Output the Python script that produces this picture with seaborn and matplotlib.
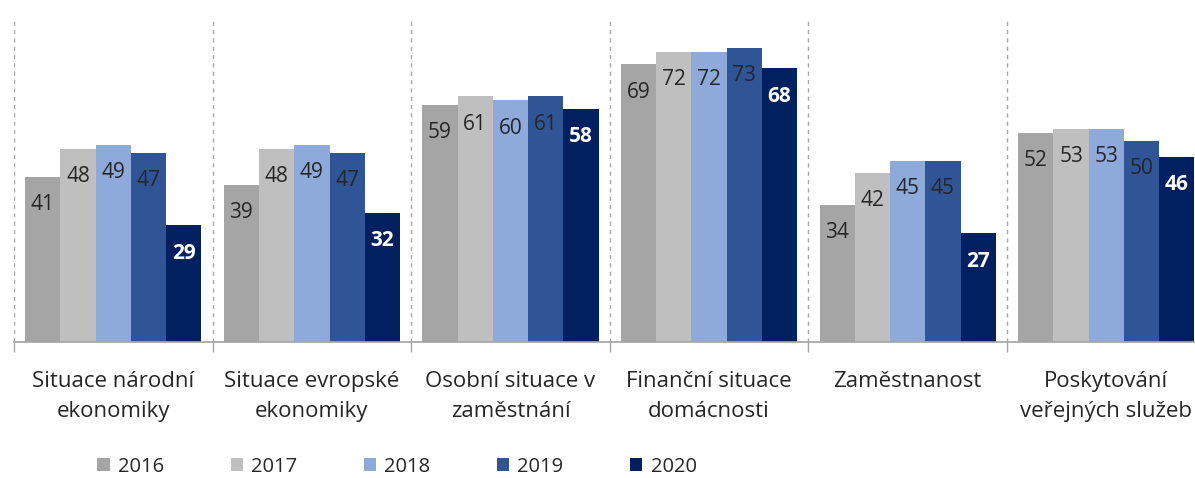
import matplotlib
matplotlib.use("Agg")
import matplotlib.pyplot as plt
import seaborn as sns
import pandas as pd

categories = ["Situace národní\nekonomiky", "Situace evropské\nekonomiky",
              "Osobní situace v\nzaměstnání", "Finanční situace\ndomácnosti",
              "Zaměstnanost", "Poskytování\nveřejných služeb"]
years = ["2016", "2017", "2018", "2019", "2020"]
v2016 = [41, 39, 59, 69, 34, 52]
v2017 = [48, 48, 61, 72, 42, 53]
v2018 = [49, 49, 60, 72, 45, 53]
v2019 = [47, 47, 61, 73, 45, 50]
v2020 = [29, 32, 58, 68, 27, 46]
colors = ["#a5a5a5", "#bfbfbf", "#8eaadb", "#2f5597", "#002060"]

series = [v2016, v2017, v2018, v2019, v2020]
rows = []
for y, vals in zip(years, series):
    for c, v in zip(categories, vals):
        rows.append({"cat": c, "year": y, "val": v})
df = pd.DataFrame(rows)

sns.set_theme(style="white")
plt.rcParams["font.family"] = ["Open Sans", "DejaVu Sans"]

fig = plt.figure(figsize=(11.95, 4.78), dpi=100)
ax = fig.add_axes([14 / 1195, 136 / 478, 6 * 198.6 / 1195, 322 / 478])
sns.barplot(data=df, x="cat", y="val", hue="year", order=categories,
            hue_order=years, palette=colors, width=0.887, gap=0,
            saturation=1, ax=ax, legend=True, edgecolor="none")

ax.set_ylim(0, 80)
ax.set_xlim(-0.5, len(categories) - 0.5)

for cont, y in zip(ax.containers, years):
    bold = (y == "2020")
    for p in cont.patches:
        h = p.get_height()
        x = p.get_x() + p.get_width() / 2
        ax.annotate(f"{h:.0f}", (x, h), xytext=(0, -20), textcoords="offset points",
                    ha="center", va="center", fontsize=15,
                    color="white" if bold else "#262626",
                    fontweight="bold" if bold else "normal")

# separators
for b in range(len(categories)):
    ax.axvline(b - 0.5, ymin=0, ymax=1, color="#a6a6a6", lw=1, ls=(0, (3, 3)))

for s in ["top", "right", "left"]:
    ax.spines[s].set_visible(False)
ax.spines["bottom"].set_color("#a6a6a6")
ax.set_yticks([])
ax.set_ylabel("")
ax.set_xlabel("")
ax.set_xticks(range(len(categories)))
ax.set_xticklabels(categories, fontsize=16, color="#262626", linespacing=1.58)
ax.tick_params(axis="x", which="major", length=0, pad=21)
ax.set_xticks([b - 0.5 for b in range(len(categories) + 1)], minor=True)
ax.tick_params(axis="x", which="minor", length=7, color="#a6a6a6", width=1)
ax.tick_params(axis="x", which="minor", bottom=True)

handles, labels = ax.get_legend_handles_labels()
ax.legend(handles, labels, ncol=5, frameon=False, loc="center",
          bbox_to_anchor=(397 / 1195, 11 / 478), bbox_transform=fig.transFigure,
          fontsize=14.5, handlelength=0.62, handleheight=0.62, handletextpad=0.4,
          columnspacing=3.3, labelcolor="#262626")

fig.savefig("out.png", dpi=100)
